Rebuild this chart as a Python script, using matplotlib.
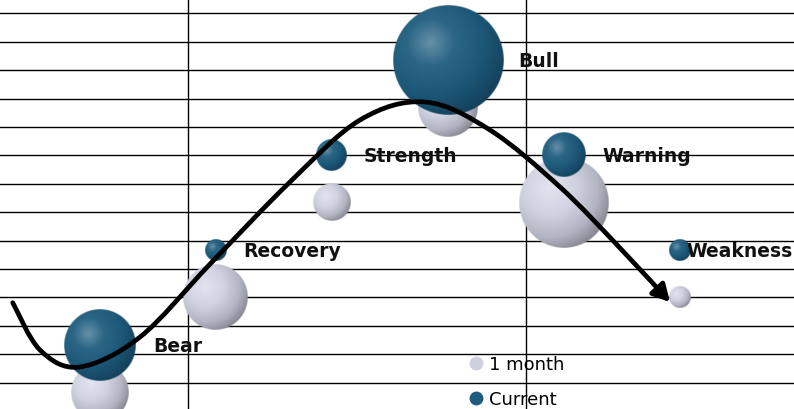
import matplotlib
matplotlib.use("Agg")
import matplotlib.pyplot as plt
import numpy as np
from matplotlib.path import Path
from matplotlib.patches import FancyArrowPatch, ArrowStyle
from matplotlib.lines import Line2D

# Фазы рынка (по оси x - номер фазы)
phases = ["Bear", "Recovery", "Strength", "Bull", "Warning", "Weakness"]
phase_x = [0, 1, 2, 3, 4, 5]

# Уровни и размеры пузырей (радиус в пикселях)
current_y = [2, 4, 6, 8, 6, 4]
current_r = [36, 11, 15.5, 55, 22, 11]
month_y = [1, 3, 5, 7, 5, 3]
month_r = [28.7, 32.5, 18.7, 29.5, 45, 10.7]

# Точки трендовой кривой (идет от начала к стрелке)
curve_x = [-0.748, -0.513, -0.172, 0.349, 0.953, 1.642, 2.246, 2.806,
           3.366, 3.97, 4.487, 4.918]
curve_y = [2.891, 1.895, 1.537, 2.168, 3.705, 5.432, 6.737, 7.116,
           6.526, 5.326, 4.042, 2.905]

# Линии сетки
grid_x = [0.766, 3.675]
grid_y = list(1.209 + 0.598 * np.arange(14))

legend_labels = ["1 month", "Current"]

# Оформление
W, H = 794, 409
xlim = (-0.858, 5.987)
ylim = (0.653, 9.263)
dark_stops = [(0.0, "#6590A8"), (0.3, "#2C6686"), (0.65, "#1C5777"), (1.0, "#13405A")]
grey_stops = [(0.0, "#E3E4EF"), (0.4, "#D2D3E1"), (0.75, "#B3B4C2"), (1.0, "#85868F")]
label_dx_px = [54, 28, 32, 71, 39, 7]

fig = plt.figure(figsize=(W / 100, H / 100), dpi=100)
ax = fig.add_axes([0, 0, 1, 1])
sx = W / (xlim[1] - xlim[0])  # пикселей на единицу по x
sy = H / (ylim[1] - ylim[0])  # пикселей на единицу по y


def draw_bubble(x, y, r, stops, z):
    # радиальный градиент с бликом слева сверху
    n = max(int(r * 4), 80)
    u = np.linspace(-1, 1, n)
    U, V = np.meshgrid(u, u)
    d = np.hypot(U, V)
    hx, hy = -0.32, 0.32
    t = np.clip(np.hypot(U - hx, V - hy) / (1 + np.hypot(hx, hy)), 0, 1)
    pos = [s[0] for s in stops]
    rgb = np.array([matplotlib.colors.to_rgb(s[1]) for s in stops])
    img = np.zeros((n, n, 4))
    for c in range(3):
        img[..., c] = np.interp(t, pos, rgb[:, c])
    img[..., 3] = np.clip((1 - d) * r + 0.5, 0, 1)
    ax.imshow(img, origin="lower", aspect="auto", interpolation="antialiased",
              extent=[x - r / sx, x + r / sx, y - r / sy, y + r / sy], zorder=z)


for i in range(len(phases)):
    draw_bubble(phase_x[i], month_y[i], month_r[i], grey_stops, 1)
    draw_bubble(phase_x[i], current_y[i], current_r[i], dark_stops, 2)
    ax.annotate(phases[i], xy=(phase_x[i], current_y[i]),
                xytext=(label_dx_px[i] * 0.72, -5.0), textcoords="offset points",
                ha="left", va="baseline", fontsize=13.5, fontweight="bold",
                color="#111111", zorder=4)

# Кривая: Catmull-Rom -> кубические кривые Безье (в пикселях, чтобы не было изломов)
pts = np.column_stack([np.array(curve_x) * sx, np.array(curve_y) * sy])
ext = np.vstack([pts[0], pts, pts[-1]])
verts = [pts[0]]
codes = [Path.MOVETO]
for i in range(1, len(ext) - 2):
    p0, p1, p2, p3 = ext[i - 1], ext[i], ext[i + 1], ext[i + 2]
    verts += [p1 + (p2 - p0) / 6, p2 - (p3 - p1) / 6, p2]
    codes += [Path.CURVE4] * 3
verts = np.array(verts) / [sx, sy]
arrow = FancyArrowPatch(path=Path(verts, codes),
                        arrowstyle=ArrowStyle("-|>", head_length=10, head_width=5.5),
                        mutation_scale=1, lw=3.4, color="black", zorder=3)
ax.add_patch(arrow)

# Сетка без рамки
ax.set_xticks(grid_x)
ax.set_yticks(grid_y)
ax.grid(True, color="black", lw=1.0)
ax.set_axisbelow(True)
ax.tick_params(length=0, labelleft=False, labelbottom=False)
for s in ax.spines.values():
    s.set_visible(False)
ax.set_xlim(xlim)
ax.set_ylim(ylim)

handles = [
    Line2D([], [], ls="", marker="o", ms=10, mfc="#CFD0DE", mec="none"),
    Line2D([], [], ls="", marker="o", ms=10, mfc="#1E5B7C", mec="none"),
]
fig.legend(handles, legend_labels, loc="upper left", bbox_to_anchor=(468.8 / W, 1 - 355.5 / H),
           frameon=False, fontsize=13, handlelength=0.8, handletextpad=0.33,
           labelspacing=0.95, borderpad=0, borderaxespad=0)

fig.savefig("out.png", dpi=100)
